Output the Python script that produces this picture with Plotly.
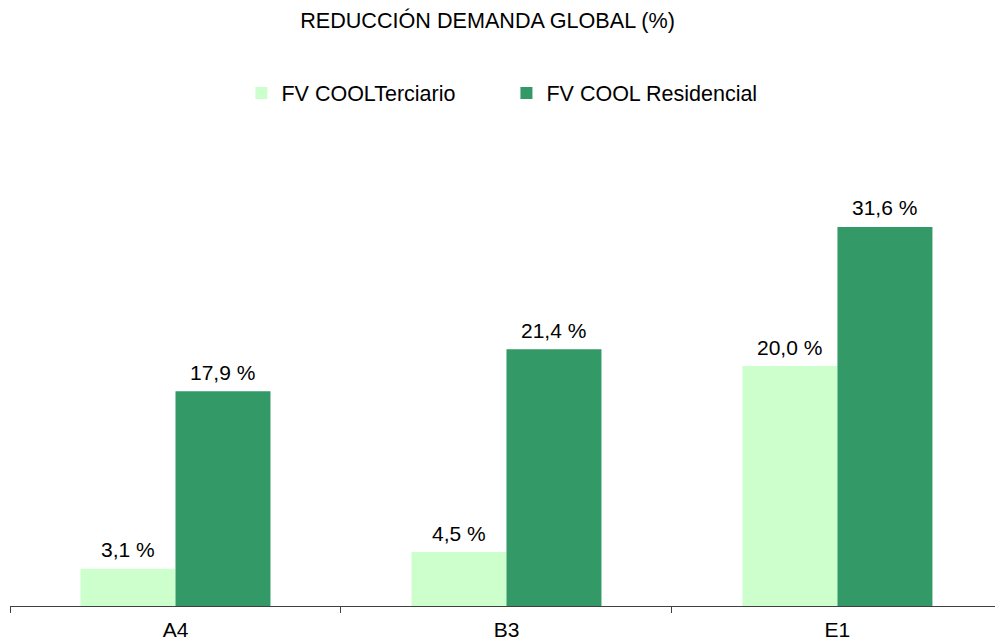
import plotly.graph_objects as go

categories = ["A4", "B3", "E1"]
terciario = [3.1, 4.5, 20.0]
residencial = [17.9, 21.4, 31.6]
series_names = ["FV COOLTerciario", "FV COOL Residencial"]
colors = ["#CCFFCC", "#339966"]

FONT = "Liberation Sans, Arial, sans-serif"
BAR_PX = 95  # approximate pixel width of each bar, for label offsets

fig = go.Figure()
series = [terciario, residencial]
for name, vals, col in zip(series_names, series, colors):
    fig.add_trace(go.Bar(
        x=categories, y=vals, name=name, marker=dict(color=col, line=dict(width=0)),
    ))

annotations = []
for i, vals in enumerate(series):
    for cat, v in zip(categories, vals):
        annotations.append(dict(
            x=cat, y=v, xref="x", yref="y", text=f"{v:.1f} %".replace(".", ","),
            showarrow=False, xanchor="center", yanchor="middle",
            xshift=(i - 0.5) * BAR_PX, yshift=19,
            font=dict(size=21, color="black", family=FONT),
        ))

fig.update_layout(
    width=995, height=640,
    margin=dict(l=10, r=0, t=140, b=34),
    paper_bgcolor="white", plot_bgcolor="white",
    separators=", ",
    barmode="group", bargap=0.426, bargroupgap=0,
    font=dict(family=FONT, size=21, color="black"),
    title=dict(text="REDUCCIÓN DEMANDA GLOBAL (%)", x=0.49, xanchor="center",
               y=1 - 20 / 640, yanchor="middle", yref="container",
               font=dict(size=21.6, color="black", family=FONT)),
    legend=dict(orientation="h", x=0.504, xanchor="center", y=1 - 93 / 640,
                yanchor="middle", yref="container", entrywidth=220,
                entrywidthmode="pixels", itemwidth=30,
                font=dict(size=21.5, color="black", family=FONT)),
    annotations=annotations,
    showlegend=True,
)
fig.update_xaxes(range=[-0.5, 2.476], tickson="boundaries", ticks="outside", ticklen=6,
                 tickcolor="#404040", showline=True, linecolor="#404040", linewidth=1,
                 showgrid=False, tickfont=dict(size=21, color="black"),
                 ticklabelstandoff=5)
fig.update_yaxes(range=[0, 466 / 11.994], visible=False, showgrid=False, zeroline=False)

fig.write_html("out.html", config={"displayModeBar": False},
               post_script="document.body.style.margin='0';document.body.style.overflow='hidden';")
